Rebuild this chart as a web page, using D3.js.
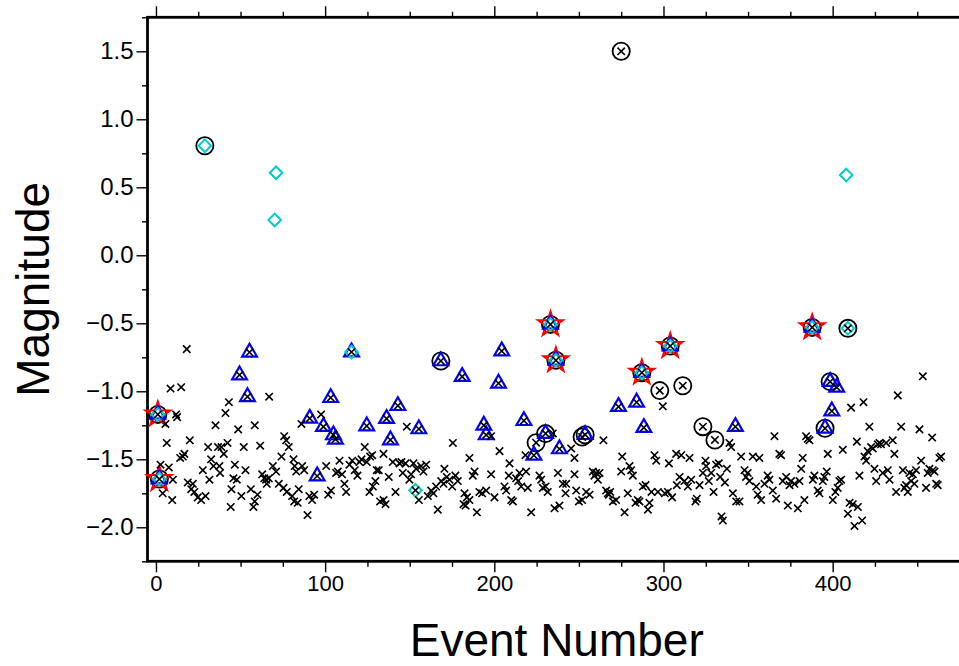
<!DOCTYPE html>
<html>
<head>
<meta charset="utf-8">
<script src="https://cdn.jsdelivr.net/npm/d3@7/dist/d3.min.js"></script>
<style>
  body { margin: 0; background: #fff; }
  svg text { font-family: "Liberation Sans", Arial, Helvetica, sans-serif; }
</style>
</head>
<body>
<div id="chart"></div>
<script>
// tick values
var xTicks = [0, 100, 200, 300, 400]
var yTicks = [-2.0, -1.5, -1.0, -0.5, 0.0, 0.5, 1.0, 1.5]

// catalogue magnitudes, [event number, magnitude]  (black x)
var crossPts = [
  [18.2,-0.69],[8.6,-0.98],[14.9,-0.97],[5.6,-1.24],[11.9,-1.17],[12.5,-1.19],[6.4,-1.38],[20,-1.36],
  [15.9,-1.48],[14.3,-1.49],[16.8,-1.46],[2.7,-1.54],[7.6,-1.56],[4,-1.75],[9.6,-1.80],[10,-1.65],
  [18.8,-1.67],[21.8,-1.68],[20.8,-1.72],[22.7,-1.74],[24.7,-1.78],[26.7,-1.80],[29.3,-1.77],[27.7,-1.58],
  [30.8,-1.41],[31.6,-1.65],[32.6,-1.50],[34,-1.55],[35.2,-1.25],[36.7,-1.41],[38.7,-1.41],[37.5,-1.55],
  [37.9,-1.60],[40.1,-1.46],[41.1,-1.16],[43.1,-1.08],[42.3,-1.38],[44.6,-1.72],[45.8,-1.64],[46.6,-1.54],
  [44.2,-1.85],[47.8,-1.65],[48.6,-1.28],[50.5,-1.77],[51.9,-1.41],[52.9,-1.58],[56.1,-1.72],[57.6,-1.85],
  [58.4,-1.81],[60,-1.76],[58.4,-1.25],[61.6,-1.40],[62.8,-1.61],[64,-1.64],[65.1,-1.65],[66.7,-1.64],
  [65.5,-1.68],[66.9,-1.04],[69.1,-1.55],[71,-1.59],[72.6,-1.68],[74.2,-1.48],[75.8,-1.33],[77,-1.36],
  [78.5,-1.41],[75.4,-1.71],[77.3,-1.74],[80.5,-1.77],[81.7,-1.81],[83.8,-1.82],[81.3,-1.50],[82,-1.55],
  [82.9,-1.59],[84.4,-1.72],[86,-1.24],[86.4,-1.55],[87.6,-1.58],[89.6,-1.91],[90.7,-1.77],[92.3,-1.80],
  [93.5,-1.76],[97.6,-1.17],[100.6,-1.55],[101.8,-1.76],[103.4,-1.73],[106.5,-1.60],[107.5,-1.59],[108.5,-1.51],
  [110,-1.61],[111.4,-1.68],[112.4,-1.74],[114.4,-1.54],[116,-1.51],[117.5,-1.58],[119.1,-1.62],[120.3,-1.52],
  [121.5,-1.50],[123.4,-1.41],[124.6,-1.52],[126.6,-1.48],[127.8,-1.47],[126.2,-1.74],[128.2,-1.70],[129.7,-1.66],
  [130.5,-1.58],[131.7,-1.58],[132.5,-1.81],[134.5,-1.80],[135.7,-1.83],[134.5,-1.46],[137.6,-1.63],[140,-1.52],
  [141.6,-1.74],[144,-1.53],[145.1,-1.52],[145.9,-1.60],[147.5,-1.53],[148.3,-1.26],[149.8,-1.65],[150.8,-1.61],
  [152.2,-1.53],[153.8,-1.57],[155.4,-1.80],[156.7,-1.55],[158.1,-1.59],[159.7,-1.54],[160.7,-1.77],[162.7,-1.73],
  [164,-1.75],[165.6,-1.70],[166.6,-1.87],[168.6,-1.66],[170,-1.68],[170.5,-1.57],[171.9,-1.63],[173.5,-1.65],
  [175.1,-1.70],[175.5,-1.38],[177,-1.62],[178.4,-1.66],
  [182.4,-1.75],[183.8,-1.78],[185.3,-1.80],[183,-1.84],[181.8,-1.83],[185.3,-1.49],[187.3,-1.62],[188.3,-1.59],
  [189.7,-1.89],[191.2,-1.74],[192.8,-1.75],[195.2,-1.73],[198.1,-1.61],[198.1,-1.33],[200.1,-1.78],[203.1,-1.44],
  [206,-1.70],[207,-1.73],[209,-1.53],[210,-1.80],[211,-1.81],[208.6,-1.62],[212.9,-1.64],[214.1,-1.66],
  [214.9,-1.60],[215.9,-1.70],[218.8,-1.59],[219.8,-1.71],[221.8,-1.89],[218.4,-1.47],[226.7,-1.62],[227.7,-1.65],
  [228.7,-1.71],[230.3,-1.70],[231.6,-1.74],[235.6,-1.86],[237.6,-1.60],[238.5,-1.84],[234.6,-1.31],
  [240.5,-1.68],[242.1,-1.75],[242.5,-1.68],[245.4,-1.42],[247.4,-1.49],[247.4,-1.61],[248.4,-1.73],[250,-1.81],
  [251.9,-1.80],[254.3,-1.74],[256.3,-1.76],[258.2,-1.59],[259.2,-1.62],[260.2,-1.60],[261.2,-1.65],[262.2,-1.60],
  [264.5,-1.36],[266.1,-1.73],[267.1,-1.75],[267.7,-1.76],[268.5,-1.74],[270.1,-1.81],[272,-1.80],[275,-1.59],
  [275.6,-1.48],[277,-1.89],[278.9,-1.75],[279.9,-1.55],[280.9,-1.58],[281.9,-1.62],[283.5,-1.82],[284.8,-1.80],
  [285.8,-1.81],[287.8,-1.70],[289.4,-1.69],[290.8,-1.87],[291.7,-1.82],[292.9,-1.74],[294.7,-1.47],[295.7,-1.51],
  [296.7,-1.74],[299.6,-1.11],[300.8,-1.75],[302.6,-1.74],[303.2,-1.53],[305.1,-1.78],[307.5,-1.46],[307.9,-1.69],
  [309.5,-1.63],[310.5,-1.47],[312.4,-1.66],[314.4,-1.70],[315.4,-1.49],[316.4,-1.65],[318.9,-1.81],[319.7,-1.79],
  [321.3,-1.69],[323.3,-1.60],[324.8,-1.51],[325.2,-1.55],[326.8,-1.66],[328.2,-1.60],[329.6,-1.74],[331.1,-1.54],
  [332.7,-1.53],[333.5,-1.63],[334.3,-1.92],[335.1,-1.95],[336.3,-1.67],[337.5,-1.57],[339,-1.38],[340,-1.41],
  [341,-1.75],[343,-1.81],
  [344.9,-1.81],[345.9,-1.48],[347.9,-1.58],[348.8,-1.63],[349.8,-1.60],[350.8,-1.66],[352.8,-1.48],[356.7,-1.49],
  [354.8,-1.70],[355.7,-1.76],[357.7,-1.80],[359.7,-1.68],[361.6,-1.62],[362.6,-1.65],[364.6,-1.73],[366.6,-1.79],
  [365.6,-1.33],[368.5,-1.46],[369.5,-1.47],[370.5,-1.66],[372.5,-1.63],[373.5,-1.84],[374.5,-1.69],[375.4,-1.66],
  [377.4,-1.68],[379.4,-1.86],[380.4,-1.66],[381.4,-1.57],[382.3,-1.49],[383.3,-1.80],[384.3,-1.33],[385.3,-1.35],
  [386.3,-1.36],[388.3,-1.65],[389.2,-1.62],[391.2,-1.73],[392.2,-1.75],[394.2,-1.66],[395.1,-1.63],[396.5,-1.59],
  [397.1,-1.46],[400.1,-1.80],[401.6,-1.74],[403,-1.71],[404,-1.66],[405,-1.65],[406,-1.43],[409,-1.90],
  [410,-1.82],[411.9,-1.83],[412.9,-1.99],[414.9,-1.85],[415.8,-1.62],[417.4,-1.95],[410.9,-1.12],[414.3,-1.37],
  [418.2,-1.08],[418.8,-1.48],[419.8,-1.51],[420.7,-1.44],[421.7,-1.26],[422.7,-1.41],[423.7,-1.42],[424.7,-1.57],
  [425.7,-1.66],[426.7,-1.39],[427.7,-1.38],[428.6,-1.39],[429.6,-1.60],[431.6,-1.38],[432.6,-1.58],[433.6,-1.65],
  [435.5,-1.36],[436.5,-1.46],[437.5,-1.74],[438.5,-1.03],[440.5,-1.26],[441.5,-1.58],[442.4,-1.71],[443.4,-1.69],
  [444.4,-1.74],[445.4,-1.60],[446.4,-1.66],[447.4,-1.61],[448.3,-1.68],[449.3,-1.58],[451.3,-1.28],[452.3,-1.51],
  [455.2,-1.71],[456.2,-1.60],[457.2,-1.57],[458.8,-1.34],[459.2,-1.58],[460.2,-1.59],[461.2,-1.68],[462.1,-1.69],
  [463.1,-1.49],[464.1,-1.48],[453.3,-0.89],
  // x under the other symbols
  [1.1,-1.17],[2,-1.645],[49.4,-0.88],[54.1,-1.04],[55.3,-0.713],[90.9,-1.199],[95.3,-1.623],[99,-1.26],
  [103.3,-1.047],[104.9,-1.321],[106.1,-1.353],[115.6,-0.711],[124.6,-1.255],[136.3,-1.201],[138.6,-1.358],
  [143,-1.106],[153.4,-1.728],[155.4,-1.277],[168.4,-0.777],[181,-0.892],[193.8,-1.25],[195.2,-1.321],
  [202.5,-0.941],[204.4,-0.704],[217.5,-1.216],[223.4,-1.471],[224.7,-1.378],[230.3,-1.311],[233.2,-0.508],
  [236.4,-0.772],[238.5,-1.424],[251.9,-1.336],[253.7,-1.319],[273.4,-1.113],[275,1.5],[284.1,-1.081],
  [287.2,-0.863],[288.4,-1.267],[297.8,-0.995],[304,-0.667],[311.4,-0.959],[323.3,-1.26],[330.4,-1.358],
  [342.5,-1.26],[387.9,-0.53],[395.5,-1.272],[398.5,-0.929],[399.5,-1.145],[402.4,-0.971],[409,-0.537]
]

var circlePts = [
  [1.1,-1.17],[2,-1.645],[28.9,0.806],[168.4,-0.777],[224.7,-1.378],[230.3,-1.311],[233.2,-0.508],
  [236.4,-0.772],[251.9,-1.336],[253.7,-1.319],[275,1.5],[287.2,-0.863],[297.8,-0.995],[304,-0.667],
  [311.4,-0.959],[323.3,-1.26],[330.4,-1.358],[387.9,-0.53],[395.5,-1.272],[398.5,-0.929],[409,-0.537]
]

var trianglePts = [
  [1.1,-1.17],[2,-1.645],[49.4,-0.88],[54.1,-1.04],[55.3,-0.713],[90.9,-1.199],[95.3,-1.623],[99,-1.26],
  [103.3,-1.047],[104.9,-1.321],[106.1,-1.353],[115.6,-0.711],[124.6,-1.255],[136.3,-1.201],[138.6,-1.358],
  [143,-1.106],[155.4,-1.277],[168.4,-0.777],[181,-0.892],[193.8,-1.25],[195.2,-1.321],[202.5,-0.941],
  [204.4,-0.704],[217.5,-1.216],[223.4,-1.471],[230.3,-1.311],[233.2,-0.508],[236.4,-0.772],[238.5,-1.424],
  [253.7,-1.319],[273.4,-1.113],[284.1,-1.081],[287.2,-0.863],[288.4,-1.267],[304,-0.667],[342.5,-1.26],
  [387.9,-0.53],[395.5,-1.272],[398.5,-0.929],[399.5,-1.145],[402.4,-0.971]
]

var diamondPts = [
  [1.1,-1.17],[2,-1.645],[28.9,0.806],[70.2,0.26],[71,0.607],[115.6,-0.711],[153.4,-1.728],
  [233.2,-0.508],[236.4,-0.772],[287.2,-0.863],[304,-0.667],[387.9,-0.53],[408,0.59],[409,-0.537]
]

var starPts = [
  [1.1,-1.17],[2,-1.645],[233.2,-0.508],[236.4,-0.772],[287.2,-0.863],[304,-0.667],[387.9,-0.53]
]

var W = 959, H = 666
var frame = {left: 147.5, right: 968, top: 17.3, bottom: 561.3}

var svg = d3.select("#chart").append("svg")
    .attr("width", W)
    .attr("height", H)
svg.append("rect").attr("width", W).attr("height", H).attr("fill", "white")

var x = d3.scaleLinear().domain([-5, 480]).range([frame.left, frame.right])
var y = d3.scaleLinear().domain([-2.25, 1.75]).range([frame.bottom, frame.top])

var fmt = d3.format(".1f")

//minor ticks first
var xMinor = d3.range(0, 476, 25).filter(function(v){ return v % 100 != 0 })
var yMinor = d3.range(-2.25, 1.76, 0.25).filter(function(v){ return Math.abs(v*2 - Math.round(v*2)) > 0.01 })

function styleAxis(g){
    g.select(".domain").remove()
    g.selectAll(".tick line").attr("stroke", "black").attr("stroke-width", 1.4)
}

// bottom axis
svg.append("g").attr("transform", "translate(0," + frame.bottom + ")")
    .call(d3.axisBottom(x).tickValues(xMinor).tickSize(5.5).tickFormat(""))
    .call(styleAxis)
svg.append("g").attr("transform", "translate(0," + frame.bottom + ")")
    .call(d3.axisBottom(x).tickValues(xTicks).tickSize(11).tickPadding(3).tickFormat(d3.format("d")))
    .call(styleAxis)
    .selectAll("text").attr("font-size", 22).attr("fill", "black")

// top axis (ticks only)
svg.append("g").attr("transform", "translate(0," + frame.top + ")")
    .call(d3.axisTop(x).tickValues(xMinor).tickSize(5.5).tickFormat(""))
    .call(styleAxis)
svg.append("g").attr("transform", "translate(0," + frame.top + ")")
    .call(d3.axisTop(x).tickValues(xTicks).tickSize(11).tickFormat(""))
    .call(styleAxis)

// left axis
svg.append("g").attr("transform", "translate(" + frame.left + ",0)")
    .call(d3.axisLeft(y).tickValues(yMinor).tickSize(5.5).tickFormat(""))
    .call(styleAxis)
svg.append("g").attr("transform", "translate(" + frame.left + ",0)")
    .call(d3.axisLeft(y).tickValues(yTicks).tickSize(11).tickPadding(3).tickFormat(fmt))
    .call(styleAxis)
    .selectAll("text").attr("font-size", 24).attr("fill", "black")

// frame
svg.append("rect")
    .attr("x", frame.left).attr("y", frame.top)
    .attr("width", frame.right - frame.left).attr("height", frame.bottom - frame.top)
    .attr("fill", "none").attr("stroke", "black").attr("stroke-width", 2.8)

// axis titles
svg.append("text")
    .attr("x", (frame.left + frame.right) / 2 - 1).attr("y", 656)
    .attr("text-anchor", "middle").attr("font-size", 46)
    .text("Event Number")
svg.append("text")
    .attr("transform", "translate(49," + ((frame.top + frame.bottom) / 2) + ") rotate(-90)")
    .attr("text-anchor", "middle").attr("font-size", 46)
    .text("Magnitude")

var plot = svg.append("g")

// black circles
plot.selectAll(".circ").data(circlePts).enter().append("circle")
    .attr("class", "circ")
    .attr("cx", function(d){ return x(d[0]) })
    .attr("cy", function(d){ return y(d[1]) })
    .attr("r", 8.6)
    .attr("fill", "none").attr("stroke", "black").attr("stroke-width", 1.8)

// red stars
var star = d3.symbol().type(d3.symbolStar).size(190)
plot.selectAll(".star").data(starPts).enter().append("path")
    .attr("class", "star")
    .attr("d", star)
    .attr("transform", function(d){ return "translate(" + x(d[0]) + "," + y(d[1]) + ")" })
    .attr("fill", "none").attr("stroke", "red").attr("stroke-width", 2)

// blue triangles
plot.selectAll(".tri").data(trianglePts).enter().append("path")
    .attr("class", "tri")
    .attr("d", "M0,-8.5L7.4,4.3L-7.4,4.3Z")
    .attr("transform", function(d){ return "translate(" + x(d[0]) + "," + y(d[1]) + ")" })
    .attr("fill", "none").attr("stroke", "#0000ff").attr("stroke-width", 2.2)

// cyan diamonds
plot.selectAll(".dia").data(diamondPts).enter().append("path")
    .attr("class", "dia")
    .attr("d", "M0,-6.3L6.3,0L0,6.3L-6.3,0Z")
    .attr("transform", function(d){ return "translate(" + x(d[0]) + "," + y(d[1]) + ")" })
    .attr("fill", "none").attr("stroke", "#00cccc").attr("stroke-width", 2)

// black crosses
plot.selectAll(".cross").data(crossPts).enter().append("path")
    .attr("class", "cross")
    .attr("d", "M-3.7,-3.7L3.7,3.7M-3.7,3.7L3.7,-3.7")
    .attr("transform", function(d){ return "translate(" + x(d[0]) + "," + y(d[1]) + ")" })
    .attr("fill", "none").attr("stroke", "black").attr("stroke-width", 1.6)
</script>
</body>
</html>
